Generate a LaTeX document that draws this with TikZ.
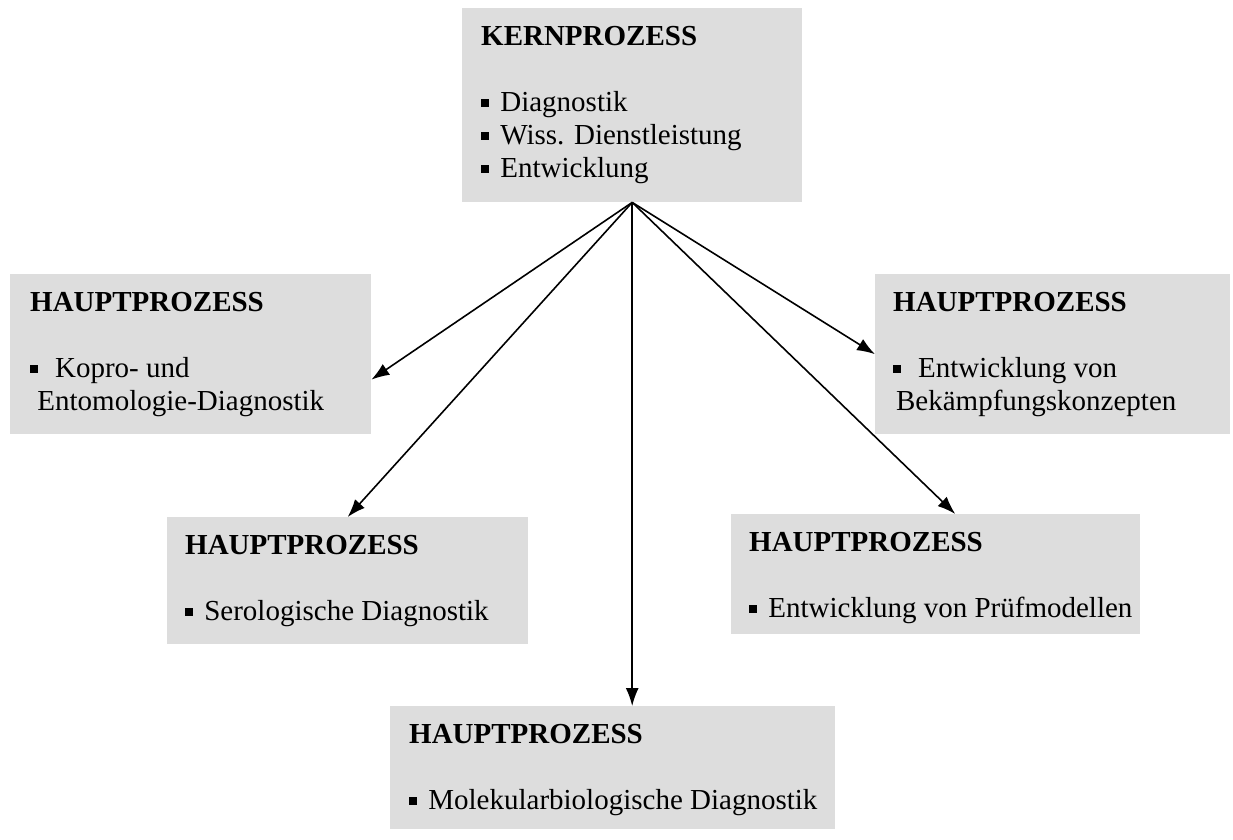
\documentclass[tikz,border=0pt]{standalone}
\usepackage{fontspec}
\setmainfont{Liberation Serif}
\usetikzlibrary{arrows.meta}

\definecolor{boxgray}{HTML}{DDDDDD}
\newcommand{\bul}{\raisebox{0.16em}{\rule{0.26em}{0.26em}}}

\begin{document}
\begin{tikzpicture}[x=1pt, y=-1pt,
		procbox/.style={fill=boxgray, inner sep=0pt, anchor=north west},
		proctext/.style={anchor=north west, inner sep=0pt, align=left, font=\fontsize{29}{33}\selectfont},
		flow/.style={-{Latex[length=18pt,width=13pt]}, line width=1.6pt}]
		\useasboundingbox (0,0) rectangle (1233,839);

		% Boxes
		\node[procbox, minimum width=340pt, minimum height=194pt] (kern) at (462,8) {};
		\node[procbox, minimum width=361pt, minimum height=160pt] (kopro) at (10,274) {};
		\node[procbox, minimum width=355pt, minimum height=160pt] (bekaempf) at (875,274) {};
		\node[procbox, minimum width=361pt, minimum height=127pt] (sero) at (167,517) {};
		\node[procbox, minimum width=409pt, minimum height=120pt] (pruef) at (731,514) {};
		\node[procbox, minimum width=445pt, minimum height=123pt] (molek) at (390,706) {};

		% Texts
		\node[proctext] (kern-t) at ([shift={(19,18)}]kern.north west)
			{\textbf{KERNPROZESS}\\[33pt]\bul\hspace{0.4em}Diagnostik\\\bul\hspace{0.4em}Wiss. Dienstleistung\\\bul\hspace{0.4em}Entwicklung};
		\node[proctext] (kopro-t) at ([shift={(20,18)}]kopro.north west)
			{\textbf{HAUPTPROZESS}\\[33pt]\bul\hspace{0.6em}Kopro- und\\\hspace{0.25em}Entomologie-Diagnostik};
		\node[proctext] (bekaempf-t) at ([shift={(18,18)}]bekaempf.north west)
			{\textbf{HAUPTPROZESS}\\[33pt]\bul\hspace{0.6em}Entwicklung von\\\hspace{0.1em}Bekämpfungskonzepten};
		\node[proctext] (sero-t) at ([shift={(18,18)}]sero.north west)
			{\textbf{HAUPTPROZESS}\\[33pt]\bul\hspace{0.4em}Serologische Diagnostik};
		\node[proctext] (pruef-t) at ([shift={(18,18)}]pruef.north west)
			{\textbf{HAUPTPROZESS}\\[33pt]\bul\hspace{0.4em}Entwicklung von Prüfmodellen};
		\node[proctext] (molek-t) at ([shift={(19,18)}]molek.north west)
			{\textbf{HAUPTPROZESS}\\[33pt]\bul\hspace{0.4em}Molekularbiologische Diagnostik};

		% Arrows
		\draw[flow] (kern.south) -- (kopro.-8);
		\draw[flow] (kern.south) -- (sero.north);
		\draw[flow] (kern.south) -- (kern.south |- molek.north);
		\draw[flow] (kern.south) -- (pruef.72);
		\draw[flow] (kern.south) -- (bekaempf.west);
	\end{tikzpicture}
\end{document}
